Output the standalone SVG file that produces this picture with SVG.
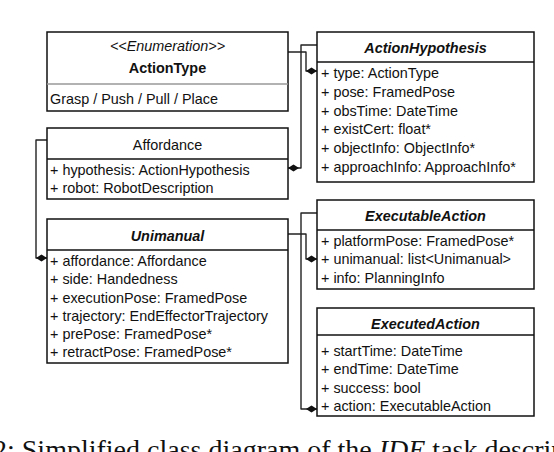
<svg xmlns="http://www.w3.org/2000/svg" width="554" height="452" viewBox="0 0 554 452">
<style>
text{font-family:"Liberation Sans",Arial,sans-serif;font-size:14.4px;fill:#111}
.t{font-weight:bold;font-style:italic;text-anchor:middle}
.b{font-weight:bold;text-anchor:middle}
.c{text-anchor:middle}
.st{font-style:italic;text-anchor:middle}
.box{fill:#fff;stroke:#111;stroke-width:1.5}
.div{stroke:#111;stroke-width:1.3}
.conn path{fill:none;stroke:#222;stroke-width:1.4;stroke-linejoin:round}
.cap{font-family:"Liberation Serif","Times New Roman",serif;font-size:28px;fill:#111}
</style>
<defs>
<marker id="dia" markerUnits="userSpaceOnUse" markerWidth="12" markerHeight="8" refX="11" refY="4" orient="auto" viewBox="0 0 12 8">
<path d="M0,4 L5.5,0.6 L11,4 L5.5,7.4 Z" fill="#111"/>
</marker>
</defs>
<g class="conn" id="connectors">
<path d="M288,52 H306 V71 H317" marker-end="url(#dia)"/>
<path d="M317,45 H301 V168 H288" marker-end="url(#dia)"/>
<path d="M288,234 H306 V259 H317" marker-end="url(#dia)"/>
<path d="M317,213 H301 V409 H317" marker-end="url(#dia)"/>
<path d="M47,140 H36 V258 H47" marker-end="url(#dia)"/>
</g>
<g id="ActionType">
<rect class="box" x="47" y="32" width="241" height="79"/>
<line x1="47" y1="84" x2="288" y2="84" stroke="#999" stroke-width="1.3"/>
<text class="st" x="167.5" y="51">&lt;&lt;Enumeration&gt;&gt;</text>
<text class="b" x="167.5" y="73">ActionType</text>
<text x="50" y="104">Grasp / Push / Pull / Place</text>
</g>
<g id="Affordance">
<rect class="box" x="47" y="128" width="241" height="71"/>
<line class="div" x1="47" y1="159" x2="288" y2="159"/>
<text class="c" x="167.5" y="150">Affordance</text>
<text x="50" y="175">+ hypothesis: ActionHypothesis</text>
<text x="50" y="193">+ robot: RobotDescription</text>
</g>
<g id="Unimanual">
<rect class="box" x="47" y="219" width="241" height="144"/>
<line class="div" x1="47" y1="250" x2="288" y2="250"/>
<text class="t" x="167.5" y="241">Unimanual</text>
<text x="50" y="266">+ affordance: Affordance</text>
<text x="50" y="284">+ side: Handedness</text>
<text x="50" y="303">+ executionPose: FramedPose</text>
<text x="50" y="321">+ trajectory: EndEffectorTrajectory</text>
<text x="50" y="339">+ prePose: FramedPose*</text>
<text x="50" y="357">+ retractPose: FramedPose*</text>
</g>
<g id="ActionHypothesis">
<rect class="box" x="317" y="32" width="217" height="150"/>
<line class="div" x1="317" y1="62" x2="534" y2="62"/>
<text class="t" x="425.5" y="53">ActionHypothesis</text>
<text x="321" y="78">+ type: ActionType</text>
<text x="321" y="97">+ pose: FramedPose</text>
<text x="321" y="116">+ obsTime: DateTime</text>
<text x="321" y="134">+ existCert: float*</text>
<text x="321" y="153">+ objectInfo: ObjectInfo*</text>
<text x="321" y="172">+ approachInfo: ApproachInfo*</text>
</g>
<g id="ExecutableAction">
<rect class="box" x="317" y="200" width="217" height="89"/>
<line class="div" x1="317" y1="230" x2="534" y2="230"/>
<text class="t" x="425.5" y="221">ExecutableAction</text>
<text x="321" y="246">+ platformPose: FramedPose*</text>
<text x="321" y="264">+ unimanual: list&lt;Unimanual&gt;</text>
<text x="321" y="283">+ info: PlanningInfo</text>
</g>
<g id="ExecutedAction">
<rect class="box" x="317" y="308" width="217" height="108"/>
<line class="div" x1="317" y1="335" x2="534" y2="335"/>
<text class="t" x="425.5" y="329">ExecutedAction</text>
<text x="321" y="356">+ startTime: DateTime</text>
<text x="321" y="374">+ endTime: DateTime</text>
<text x="321" y="393">+ success: bool</text>
<text x="321" y="411">+ action: ExecutableAction</text>
</g>
<text class="cap" x="-7" y="458.5">2: Simplified class diagram of the <tspan font-style="italic">IDE</tspan> task description</text>
</svg>
